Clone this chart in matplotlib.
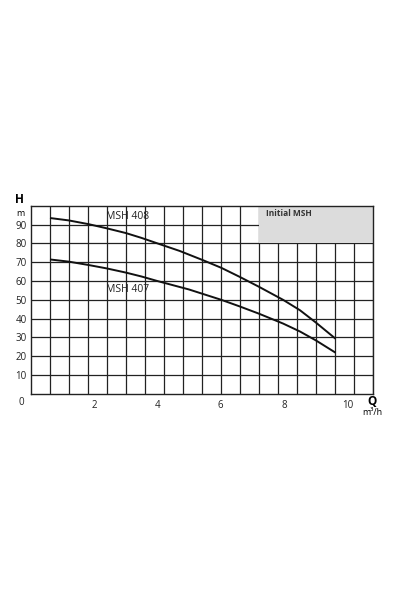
import numpy as np
import matplotlib.pyplot as plt

# pump curves (Q in m3/h, H in m)
q_408 = [0.64, 1.2, 1.83, 2.4, 3.0, 3.5, 4.0, 4.7, 5.42, 6.02, 6.6, 7.2, 7.97, 8.5, 9.0, 9.6]
h_408 = [93.4, 92.2, 90.2, 88.0, 85.5, 82.9, 80.0, 76.0, 71.2, 67.0, 62.2, 57.0, 50.0, 44.5, 38.0, 29.7]
q_407 = [0.64, 1.2, 1.83, 2.4, 3.0, 3.5, 4.0, 5.0, 6.02, 6.6, 7.2, 7.97, 8.5, 9.0, 9.6]
h_407 = [71.4, 70.3, 68.5, 66.7, 64.5, 62.4, 60.0, 55.5, 50.0, 46.5, 42.7, 37.4, 33.2, 28.5, 22.2]

x_ticks = [2, 4, 6, 8, 10]
y_ticks = [10, 20, 30, 40, 50, 60, 70, 80, 90]

plt.rcParams['font.family'] = ['Open Sans', 'DejaVu Sans']

fig = plt.figure(figsize=(3.95, 5.92), dpi=100)
ax = fig.add_axes([0.0777, 0.3345, 0.866, 0.318])
ax.set_xlim(0, 10.8)
ax.set_ylim(0, 100)

# background grid (decorative, every 0.6 on Q and every 10 on H)
for gx in np.arange(0.6, 10.8, 0.6):
    ax.axvline(gx, color="#222222", lw=0.9, zorder=1)
for gy in y_ticks:
    ax.axhline(gy, color="#222222", lw=0.9, zorder=1)

# grey legend box
ax.add_patch(plt.Rectangle((7.2, 80), 10.8 - 7.2, 19.4, facecolor="#dcdcdc",
                           edgecolor="none", zorder=2))
ax.text(7.42, 95.8, "Initial MSH", fontsize=6, fontweight="bold",
        color="#333333", va="center", ha="left", zorder=3)

ax.plot(q_408, h_408, color="#111111", lw=1.4, zorder=4)
ax.plot(q_407, h_407, color="#111111", lw=1.4, zorder=4)
ax.text(3.05, 94.3, "MSH 408", fontsize=7.5, ha="center", va="center", color="#222222")
ax.text(3.05, 55.5, "MSH 407", fontsize=7.5, ha="center", va="center", color="#222222")

for s in ax.spines.values():
    s.set_color("#222222")
    s.set_linewidth(1.0)

ax.set_xticks(x_ticks)
ax.set_xticklabels([str(v) for v in x_ticks])
ax.set_yticks(y_ticks)
ax.set_yticklabels([str(v) for v in y_ticks])
ax.tick_params(length=0, labelsize=7, colors="#222222", pad=3)
ax.tick_params(axis="x", pad=4)

ax.text(-0.2, -1.5, "0", fontsize=7, ha="right", va="top", color="#222222")
ax.text(-0.2, 101.3, "H", fontsize=8.5, fontweight="bold", ha="right", va="baseline")
ax.text(-0.2, 94.6, "m", fontsize=6.5, ha="right", va="baseline")
ax.text(10.64, -5.9, "Q", fontsize=8.5, fontweight="bold", ha="left", va="baseline")
ax.text(10.47, -11.2, "m³/h", fontsize=6.5, ha="left", va="baseline")

fig.savefig("out.png", dpi=100)
